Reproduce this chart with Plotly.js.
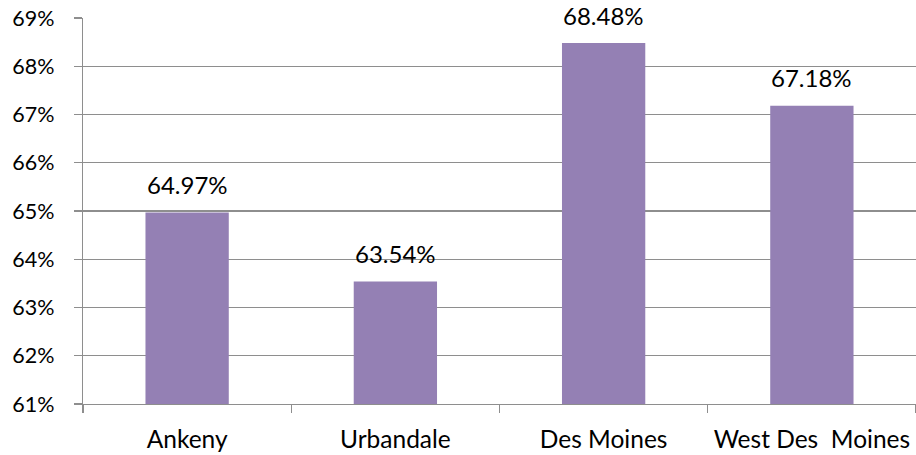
<!DOCTYPE html>
<html>
<head>
<meta charset="utf-8">
<script src="https://cdn.plot.ly/plotly-3.0.1.min.js"></script>
<style>html,body{margin:0;padding:0;background:#fff;}#chart{width:916px;height:455px;}</style>
</head>
<body>
<div id="chart"></div>
<script>
const categories = ["Ankeny", "Urbandale", "Des Moines", "West Des  Moines"];
const values = [64.97, 63.54, 68.48, 67.18];
const valueLabels = ["64.97%", "63.54%", "68.48%", "67.18%"];

const FONT = "Lato, 'Open Sans', sans-serif";
const GRID = "#8e8e8e";

const trace = {
  type: "bar",
  x: categories,
  y: values,
  marker: {color: "#9480B4"},
  hoverinfo: "none"
};

const annotations = categories.map((c, i) => ({
  x: c, y: values[i], text: valueLabels[i],
  xref: "x", yref: "y", showarrow: false,
  yanchor: "middle", yshift: 28,
  font: {family: FONT, size: 24, color: "#000"}
}));

const layout = {
  width: 916, height: 455,
  margin: {l: 83, r: 0, t: 18, b: 51},
  paper_bgcolor: "#fff", plot_bgcolor: "#fff",
  bargap: 0.6,
  showlegend: false,
  font: {family: FONT, size: 22, color: "#000"},
  xaxis: {
    type: "category",
    showgrid: false,
    showline: true, linecolor: GRID, linewidth: 1.3,
    ticks: "outside", tickson: "boundaries", ticklen: 8, tickcolor: GRID, tickwidth: 1.3,
    tickangle: 0,
    ticklabelstandoff: 13,
    tickfont: {family: FONT, size: 24.5, color: "#000"},
    zeroline: false
  },
  yaxis: {
    range: [61, 69], dtick: 1, tick0: 61,
    ticksuffix: "%",
    showgrid: true, gridcolor: GRID, gridwidth: 1.3,
    showline: true, linecolor: GRID, linewidth: 1.3,
    ticks: "outside", ticklen: 8, tickcolor: GRID, tickwidth: 1.3,
    ticklabelstandoff: 15,
    tickfont: {family: FONT, size: 21.5, color: "#000"},
    zeroline: false
  },
  annotations: annotations
};

Plotly.newPlot("chart", [trace], layout, {displayModeBar: false, staticPlot: true});
</script>
</body>
</html>
